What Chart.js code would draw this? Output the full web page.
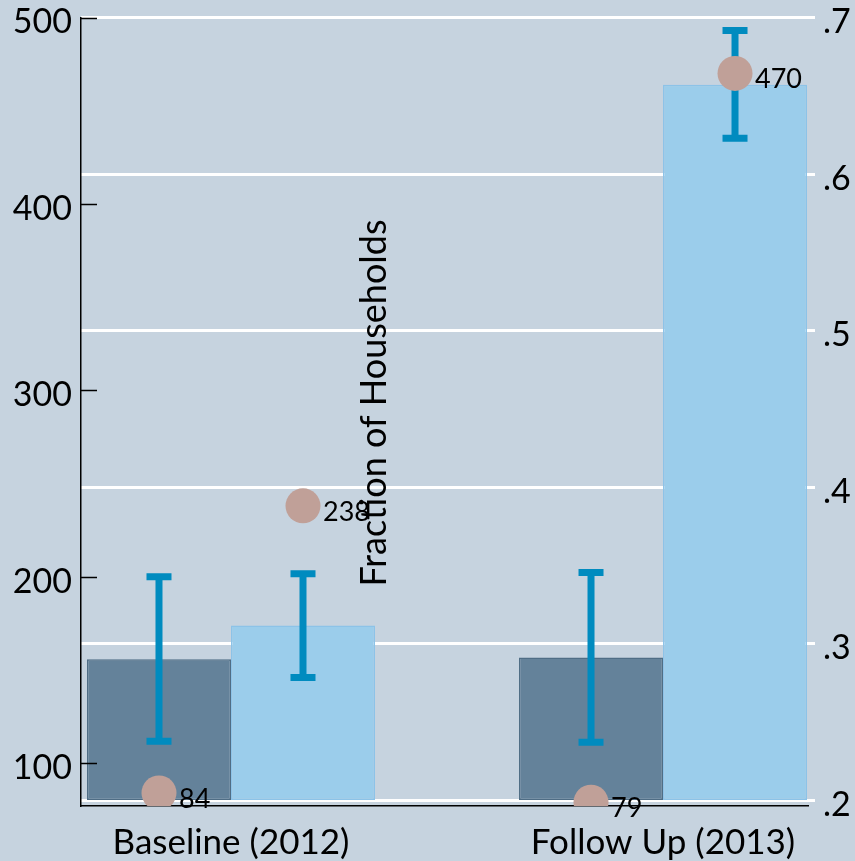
<!DOCTYPE html>
<html>
<head>
<meta charset="utf-8">
<script src="https://cdn.jsdelivr.net/npm/chart.js@4.4.1/dist/chart.umd.min.js"></script>
<style>
    html, body { margin: 0; padding: 0; background: #c6d3df; }
    #wrap { width: 855px; height: 861px; }
</style>
</head>
<body>
<div id="wrap"><canvas id="chart"></canvas></div>
<script>
// values
var groups = ['Baseline (2012)', 'Follow Up (2013)'];
var groupPos = [1, 2];
var shareBase = 0.2;
var darkShare = [0.290, 0.291];
var lightShare = [0.3115, 0.657];
var darkLo = [0.2375, 0.2369];
var darkHi = [0.3427, 0.3453];
var lightLo = [0.2783, 0.6228];
var lightHi = [0.3446, 0.6917];
var darkCount = [84, 79];
var lightCount = [238, 470];
var countTicks = [100, 200, 300, 400, 500];
var shareTicks = [0.2, 0.3, 0.4, 0.5, 0.6, 0.7];

var FONT = 'Lato, "Open Sans", sans-serif';
var ERR = '#008bbf';

(function () {
    var side = 1 / 6; // half a bar, in x units (bars fill 2/3 of a group)

    var pointData = [];
    groupPos.forEach(function (g, i) {
        pointData.push({ x: g - side, y: darkCount[i] });
        pointData.push({ x: g + side, y: lightCount[i] });
    });

    function barData(vals) {
        return groupPos.map(function (g, i) { return { x: g, y: [shareBase, vals[i]] }; });
    }

    function drawErr(ctx, x, yTop, yBot) {
        ctx.save();
        ctx.strokeStyle = ERR;
        ctx.lineWidth = 7;
        ctx.lineCap = 'butt';
        ctx.beginPath();
        ctx.moveTo(x, yTop); ctx.lineTo(x, yBot);
        ctx.moveTo(x - 12.5, yTop); ctx.lineTo(x + 12.5, yTop);
        ctx.moveTo(x - 12.5, yBot); ctx.lineTo(x + 12.5, yBot);
        ctx.stroke();
        ctx.restore();
    }

    function noPad(s) {
        s.paddingTop = 0; s.paddingBottom = 0; s.paddingLeft = 0; s.paddingRight = 0;
    }

    var extras = {
        id: 'extras',
        afterDatasetDraw: function (chart, args) {
            // error bars, drawn with their own bar set (points sit above them)
            if (args.index !== 1 && args.index !== 2) return;
            var yR = chart.scales.yR;
            var lo = args.index === 1 ? darkLo : lightLo;
            var hi = args.index === 1 ? darkHi : lightHi;
            args.meta.data.forEach(function (bar, j) {
                drawErr(chart.ctx, bar.x, yR.getPixelForValue(hi[j]), yR.getPixelForValue(lo[j]));
            });
        },
        afterDatasetsDraw: function (chart) {
            var ctx = chart.ctx, area = chart.chartArea, yL = chart.scales.yL;
            ctx.save();
            // inward ticks on the left axis
            ctx.strokeStyle = '#000';
            ctx.lineWidth = 1.5;
            ctx.beginPath();
            countTicks.forEach(function (t) {
                var y = Math.round(yL.getPixelForValue(t)) + 0.5;
                ctx.moveTo(area.left, y); ctx.lineTo(area.left + 16, y);
            });
            ctx.stroke();
            // point labels
            ctx.fillStyle = '#000';
            ctx.font = '27px ' + FONT;
            ctx.textAlign = 'left';
            ctx.textBaseline = 'middle';
            var meta = chart.getDatasetMeta(0);
            meta.data.forEach(function (pt, j) {
                ctx.fillText(String(pointData[j].y), pt.x + 20, pt.y + 6);
            });
            // stray axis title in the middle of the plot
            ctx.translate(374, 403);
            ctx.rotate(-Math.PI / 2);
            ctx.textAlign = 'center';
            ctx.font = '36px ' + FONT;
            ctx.fillText('Fraction of Households', 0, 0);
            ctx.restore();
        }
    };

    new Chart(document.getElementById('chart'), {
        data: {
            datasets: [
                {
                    type: 'scatter',
                    data: pointData,
                    yAxisID: 'yL',
                    pointRadius: 17.5,
                    pointHoverRadius: 17.5,
                    pointBackgroundColor: '#c0a098',
                    pointBorderWidth: 0
                },
                {
                    type: 'bar',
                    data: barData(darkShare),
                    yAxisID: 'yR',
                    backgroundColor: '#64829a',
                    borderColor: '#4f6d85',
                    borderWidth: 1.5,
                    borderSkipped: false,
                    categoryPercentage: 2 / 3,
                    barPercentage: 1
                },
                {
                    type: 'bar',
                    data: barData(lightShare),
                    yAxisID: 'yR',
                    backgroundColor: '#9bcdeb',
                    borderColor: '#8cc3e8',
                    borderWidth: 1.5,
                    borderSkipped: false,
                    categoryPercentage: 2 / 3,
                    barPercentage: 1
                }
            ]
        },
        plugins: [extras],
        options: {
            responsive: true,
            maintainAspectRatio: false,
            animation: false,
            events: [],
            layout: { padding: { top: 16, left: 0, right: 0, bottom: 0 } },
            plugins: { legend: { display: false }, tooltip: { enabled: false } },
            scales: {
                x: {
                    type: 'linear',
                    position: 'bottom',
                    offset: false,
                    min: 0.6528,
                    max: 2.3356,
                    afterBuildTicks: function (s) { s.ticks = groupPos.map(function (v) { return { value: v }; }); },
                    afterFit: function (s) { s.height = 55; noPad(s); },
                    grid: { display: false, offset: false },
                    border: { display: true, color: '#000', width: 1.5 },
                    ticks: {
                        color: '#000',
                        padding: 8,
                        font: { family: FONT, size: 35 },
                        maxRotation: 0,
                        autoSkip: false,
                        callback: function (v) { return groups[groupPos.indexOf(v)] || ''; }
                    }
                },
                yL: {
                    type: 'linear',
                    position: 'left',
                    min: 76.975,
                    max: 500,
                    afterBuildTicks: function (s) { s.ticks = countTicks.map(function (v) { return { value: v }; }); },
                    afterFit: function (s) { s.width = 81; noPad(s); },
                    grid: { drawOnChartArea: false, drawTicks: false },
                    border: { display: true, color: '#000', width: 1.5 },
                    ticks: {
                        color: '#000',
                        padding: 9,
                        labelOffset: 5,
                        font: { family: FONT, size: 34 }
                    }
                },
                yR: {
                    type: 'linear',
                    position: 'right',
                    min: 0.19617,
                    max: 0.7,
                    afterBuildTicks: function (s) { s.ticks = shareTicks.map(function (v) { return { value: v }; }); },
                    afterFit: function (s) { s.width = 47; noPad(s); },
                    grid: {
                        color: '#ffffff',
                        lineWidth: 3,
                        drawOnChartArea: true,
                        tickLength: 7,
                        tickColor: '#ffffff',
                        tickWidth: 3
                    },
                    border: { display: false },
                    ticks: {
                        color: '#000',
                        padding: 8,
                        labelOffset: 5,
                        font: { family: FONT, size: 34 },
                        callback: function (v) { return '.' + Math.round(v * 10); }
                    }
                }
            }
        }
    });
})();
</script>
</body>
</html>
